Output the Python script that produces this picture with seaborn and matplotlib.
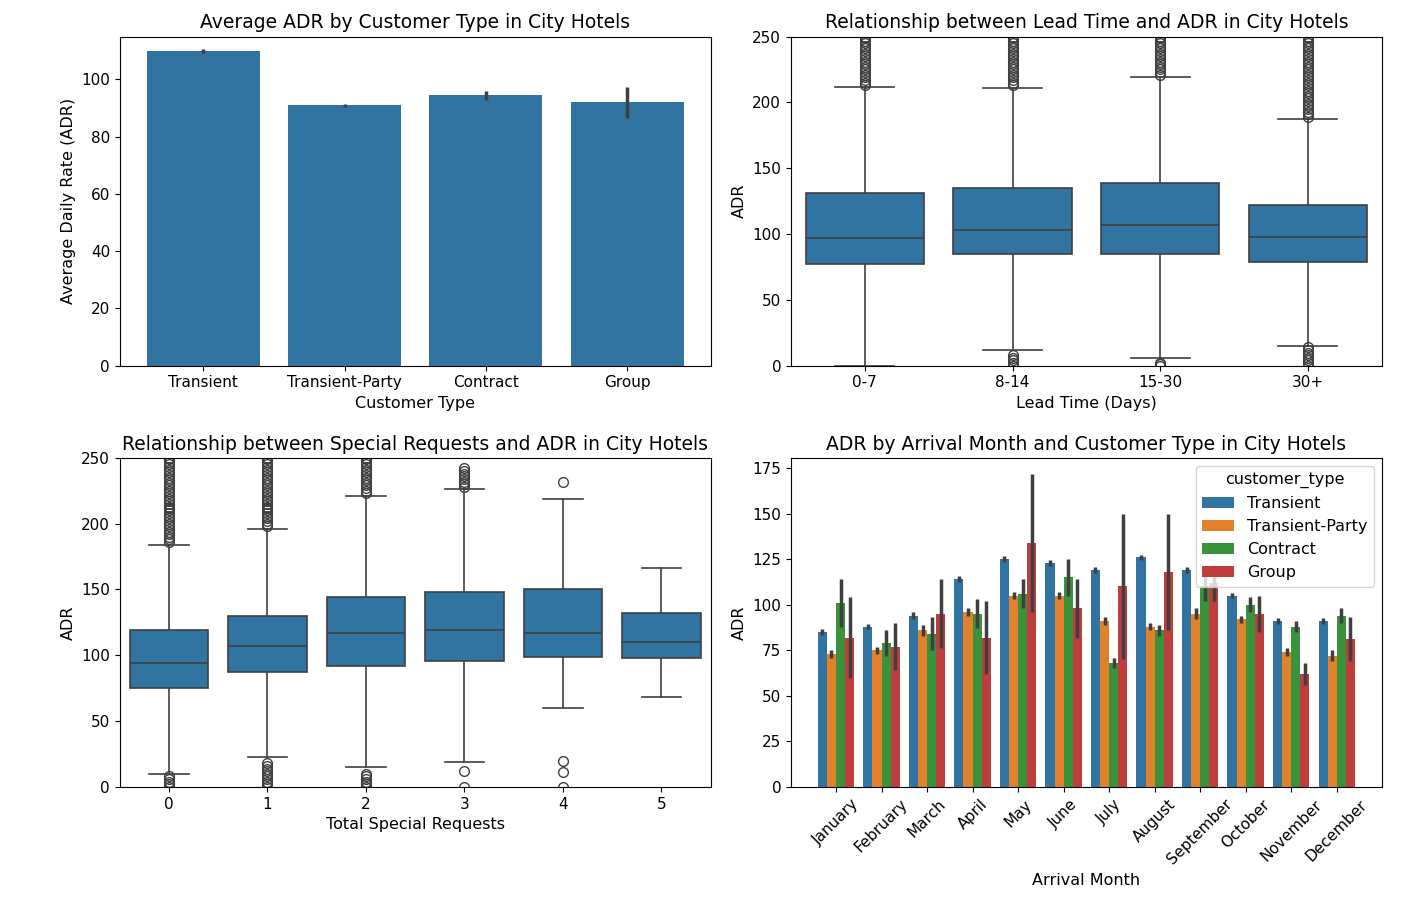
import matplotlib
matplotlib.use("Agg")
import matplotlib.pyplot as plt
import seaborn as sns
import pandas as pd
import numpy as np

# ---- data ----
cust_types = ["Transient", "Transient-Party", "Contract", "Group"]
cust_adr = [110.0, 91.0, 94.5, 92.0]
cust_err = [0.6, 0.6, 1.6, 5.5]

lead_bins = ["0-7", "8-14", "15-30", "30+"]
lead_q1 = [77, 85, 85, 79]
lead_med = [97, 103, 107, 98]
lead_q3 = [131, 135, 139, 122]
lead_lo = [0, 12, 6, 15]
lead_hi = [212, 211, 219, 187]
hi_tail = [213, 215, 217, 219, 221, 223, 225, 227, 229, 231, 233, 235, 237, 239, 241, 243, 245, 247, 249, 250]
lead_fliers = [
    hi_tail,
    [0, 2, 4, 6, 8] + hi_tail,
    [0, 1, 2, 221, 223, 225, 227, 229, 231, 233, 235, 237, 239, 241, 243, 245, 247, 249, 250],
    [0, 2, 4, 6, 8, 10, 12, 14, 189, 191, 193, 195, 197, 199, 201, 203, 205, 207, 209, 211] + hi_tail,
]

req_cats = ["0", "1", "2", "3", "4", "5"]
req_q1 = [75, 87, 92, 96, 99, 98]
req_med = [94, 107, 117, 119, 117, 110]
req_q3 = [119, 130, 144, 148, 150, 132]
req_lo = [10, 23, 15, 19, 60, 68]
req_hi = [184, 196, 221, 226, 219, 166]
req_fliers = [
    [0, 2, 4, 6, 8, 186, 188, 190, 192, 194, 196, 198, 200, 202, 204, 206, 208, 210, 212] + hi_tail,
    [0, 2, 4, 6, 8, 10, 12, 14, 16, 18, 198, 200, 202, 204, 206, 208, 210, 212] + hi_tail,
    [0, 2, 4, 6, 8, 10, 223, 225, 227, 229, 231, 233, 235, 237, 239, 241, 243, 245, 247, 249, 250],
    [0, 12, 228, 230, 232, 234, 236, 238, 240, 242],
    [0, 11, 20, 232],
    [],
]

months = ["January", "February", "March", "April", "May", "June", "July",
          "August", "September", "October", "November", "December"]
m_transient = [85, 88, 94, 114, 125, 123, 119, 126, 119, 105, 91, 91]
m_tparty = [73, 75, 86, 96, 105, 105, 91, 88, 95, 92, 74, 72]
m_contract = [101, 79, 84, 95, 106, 115, 68, 86, 110, 100, 88, 94]
m_group = [82, 77, 95, 82, 134, 98, 110, 118, 112, 95, 62, 81]
e_transient = [1.5, 1.5, 2, 1.5, 1.5, 1.5, 1.5, 1.5, 1.5, 1.5, 1.5, 1.5]
e_tparty = [2, 2, 3, 2, 2, 2, 2, 2, 3, 2, 2, 3]
e_contract = [13, 7, 9, 8, 8, 10, 3, 3, 8, 4, 3, 4]
e_group = [22, 13, 19, 20, 38, 16, 40, 32, 10, 10, 6, 12]

blue = sns.color_palette()[0]
fig, axes = plt.subplots(2, 2, figsize=(14.26, 9.14), dpi=100)
base = sns.desaturate(blue, 0.75)

# Top-left
ax = axes[0, 0]
df1 = pd.DataFrame({"customer_type": cust_types, "adr": cust_adr})
sns.barplot(data=df1, x="customer_type", y="adr", ax=ax, color=blue, errorbar=None)
ax.vlines(range(len(cust_types)), np.array(cust_adr) - cust_err, np.array(cust_adr) + cust_err,
          color="#3f3f3f", lw=2.5)
ax.set_title("Average ADR by Customer Type in City Hotels", fontsize=13.5)
ax.set_xlabel("Customer Type", fontsize=11.5)
ax.set_ylabel("Average Daily Rate (ADR)", fontsize=11.5)
ax.set_ylim(0, 115)

def boxes(ax, cats, q1, med, q3, lo, hi, fl):
    stats = []
    for i in range(len(cats)):
        stats.append(dict(med=med[i], q1=q1[i], q3=q3[i], whislo=lo[i], whishi=hi[i], fliers=fl[i]))
    ax.bxp(stats, positions=range(len(cats)), widths=0.8, patch_artist=True,
           boxprops=dict(facecolor=base, edgecolor="#3f3f3f", lw=1.2),
           medianprops=dict(color="#3f3f3f", lw=1.2),
           whiskerprops=dict(color="#3f3f3f", lw=1.2),
           capprops=dict(color="#3f3f3f", lw=1.2),
           flierprops=dict(marker="o", markerfacecolor="none", markeredgecolor="#3f3f3f", markersize=7))
    ax.set_xticks(range(len(cats)))
    ax.set_xticklabels(cats)
    ax.set_xlim(-0.5, len(cats) - 0.5)
    ax.set_ylim(0, 250)

ax = axes[0, 1]
boxes(ax, lead_bins, lead_q1, lead_med, lead_q3, lead_lo, lead_hi, lead_fliers)
ax.set_title("Relationship between Lead Time and ADR in City Hotels", fontsize=13.5)
ax.set_xlabel("Lead Time (Days)", fontsize=11.5)
ax.set_ylabel("ADR", fontsize=11.5)

ax = axes[1, 0]
boxes(ax, req_cats, req_q1, req_med, req_q3, req_lo, req_hi, req_fliers)
ax.set_title("Relationship between Special Requests and ADR in City Hotels", fontsize=13.5)
ax.set_xlabel("Total Special Requests", fontsize=11.5)
ax.set_ylabel("ADR", fontsize=11.5)

# Bottom-right
ax = axes[1, 1]
rows = []
series = [m_transient, m_tparty, m_contract, m_group]
errs = [e_transient, e_tparty, e_contract, e_group]
for ct, vals in zip(cust_types, series):
    for m, v in zip(months, vals):
        rows.append({"arrival_date_month": m, "customer_type": ct, "adr": v})
df4 = pd.DataFrame(rows)
sns.barplot(data=df4, x="arrival_date_month", y="adr", hue="customer_type",
            hue_order=cust_types, order=months, ax=ax, errorbar=None)
w = 0.8 / 4
for j, (vals, ee) in enumerate(zip(series, errs)):
    xs = np.arange(12) - 0.4 + w * (j + 0.5)
    ax.vlines(xs, np.array(vals) - ee, np.array(vals) + ee, color="#3f3f3f", lw=2.5)
ax.set_title("ADR by Arrival Month and Customer Type in City Hotels", fontsize=13.5)
ax.set_xlabel("Arrival Month", fontsize=11.5)
ax.set_ylabel("ADR", fontsize=11.5)
ax.tick_params(axis="x", rotation=45)
ax.legend(title="customer_type", loc="upper right", fontsize=11.5, title_fontsize=11.5)

for a in axes.flat:
    a.tick_params(labelsize=11)
fig.subplots_adjust(left=0.084, right=0.969, top=0.96, bottom=0.139, wspace=0.136, hspace=0.28)
fig.savefig("out.png")
